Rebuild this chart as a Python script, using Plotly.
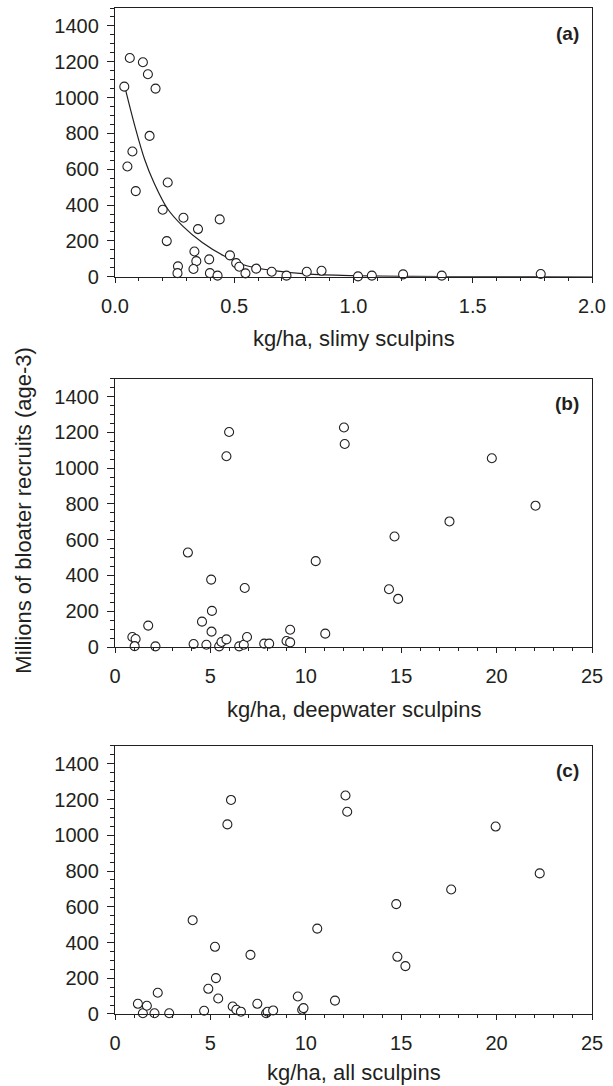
import plotly.graph_objects as go

# ---------------- data ----------------
# Panel (a): slimy sculpins biomass (kg/ha) vs bloater recruits (millions)
slimy_x = [0.039, 0.062, 0.117, 0.138, 0.170, 0.145, 0.073, 0.052, 0.087, 0.221,
           0.200, 0.217, 0.287, 0.348, 0.439, 0.333, 0.341, 0.329, 0.264, 0.262,
           0.395, 0.398, 0.430, 0.482, 0.508, 0.521, 0.547, 0.592, 0.657, 0.719,
           0.804, 0.866, 1.019, 1.077, 1.208, 1.370, 1.785]
slimy_y = [1061, 1221, 1197, 1130, 1050, 786, 699, 615, 478, 526,
           374, 199, 329, 266, 320, 141, 87, 43, 58, 20,
           97, 20, 6, 119, 76, 56, 19, 45, 28, 6,
           28, 33, 2, 6, 13, 6, 15]

# fitted decay curve in panel (a)
fit_x = [0.041, 0.083, 0.124, 0.163, 0.221, 0.283, 0.366, 0.456, 0.552, 0.65,
         0.80, 1.00, 1.25, 1.50, 1.75, 2.00]
fit_y = [1061, 842, 656, 526, 378, 284, 191, 117, 61, 37,
         16, 6, 2, 0.5, 0.2, 0]

# Panel (b): deepwater sculpins
deep_x = [0.91, 1.08, 1.03, 1.74, 2.12, 3.82, 4.12, 4.56, 4.79, 5.04,
          5.08, 5.06, 5.46, 5.58, 5.84, 5.84, 5.98, 6.51, 6.75, 6.80,
          6.92, 7.82, 8.08, 8.99, 9.18, 9.18, 10.52, 11.02, 12.00, 12.04,
          14.65, 14.36, 14.84, 17.53, 19.75, 22.04]
deep_y = [56, 45, 5, 120, 4, 528, 17, 142, 13, 377,
          202, 86, 4, 28, 43, 1066, 1202, 4, 13, 330,
          56, 19, 19, 34, 97, 26, 480, 75, 1227, 1135,
          618, 323, 269, 702, 1055, 790]

# Panel (c): all sculpins
all_x = [1.20, 1.46, 1.67, 2.07, 2.24, 2.84, 4.07, 4.67, 4.89, 5.24,
         5.29, 5.41, 5.89, 6.08, 6.17, 6.36, 6.60, 7.10, 7.46, 7.92,
         8.00, 8.29, 9.58, 9.81, 9.88, 10.60, 11.53, 12.08, 12.17, 14.74,
         14.80, 15.22, 17.62, 19.95, 22.26]
all_y = [57, 4, 46, 4, 119, 4, 525, 18, 141, 376,
         201, 87, 1061, 1198, 42, 24, 13, 331, 57, 4,
         13, 20, 98, 24, 33, 478, 75, 1223, 1132, 615,
         320, 268, 697, 1049, 787]

x_titles = ["kg/ha, slimy sculpins", "kg/ha, deepwater sculpins", "kg/ha, all sculpins"]
panel_tags = ["(a)", "(b)", "(c)"]
y_title = "Millions of bloater recruits (age-3)"
y_ticks = [0, 200, 400, 600, 800, 1000, 1200, 1400]
x_ticks_a = [0.0, 0.5, 1.0, 1.5, 2.0]
x_ticks_bc = [0, 5, 10, 15, 20, 25]

# ---------------- styling ----------------
W, H = 613, 1086
ML, MR, MT, MB = 115, 15, 7, 72
PH = H - MT - MB  # plot area height in px
INK = "#231f20"
FONT = "Liberation Sans, Arial, sans-serif"

def ypaper(py):
    return (H - MB - py) / PH

domains = [
    [ypaper(276.0), 1.0],
    [ypaper(646.7), ypaper(378.0)],
    [0.0, ypaper(745.7)],
]
axis_px = [276.0, 646.7, 1014.0]
top_px = [7.5, 378.0, 745.7]
title_offset = [62, 62, 59]

fig = go.Figure()

marker = dict(symbol="circle", size=9, color="white",
              line=dict(color=INK, width=1.1))

# curve first so markers sit on top
fig.add_trace(go.Scatter(x=fit_x, y=fit_y, mode="lines", xaxis="x", yaxis="y",
                         line=dict(color=INK, width=1.2, shape="spline"),
                         hoverinfo="skip", showlegend=False))
fig.add_trace(go.Scatter(x=slimy_x, y=slimy_y, mode="markers", xaxis="x", yaxis="y",
                         marker=marker, cliponaxis=False, showlegend=False))
fig.add_trace(go.Scatter(x=deep_x, y=deep_y, mode="markers", xaxis="x2", yaxis="y2",
                         marker=marker, cliponaxis=False, showlegend=False))
fig.add_trace(go.Scatter(x=all_x, y=all_y, mode="markers", xaxis="x3", yaxis="y3",
                         marker=marker, cliponaxis=False, showlegend=False))

def xaxis(anchor, rng, ticks, minor_dt, fmt):
    return dict(anchor=anchor, domain=[0, 1], range=rng,
                tickmode="array", tickvals=ticks,
                ticktext=[fmt.format(t) for t in ticks],
                ticks="outside", ticklen=5, tickwidth=1.2, tickcolor=INK,
                minor=dict(dtick=minor_dt, ticks="outside", ticklen=3,
                           tickwidth=1, tickcolor=INK),
                showline=True, linecolor=INK, linewidth=1.4, mirror=True,
                showgrid=False, zeroline=False,
                tickfont=dict(family=FONT, size=20, color=INK),
                ticklabelstandoff=6)

def yaxis(anchor, dom):
    return dict(anchor=anchor, domain=dom, range=[0, 1500],
                tickmode="array", tickvals=y_ticks,
                ticktext=[str(t) for t in y_ticks],
                ticks="outside", ticklen=7, tickwidth=1.2, tickcolor=INK,
                minor=dict(dtick=50, ticks="outside", ticklen=4,
                           tickwidth=1, tickcolor=INK),
                showline=True, linecolor=INK, linewidth=1.4, mirror=True,
                showgrid=False, zeroline=False,
                tickfont=dict(family=FONT, size=20, color=INK),
                ticklabelstandoff=4)

annotations = []
for i in range(3):
    annotations.append(dict(
        text=x_titles[i], xref="paper", yref="paper",
        x=0.5, y=ypaper(axis_px[i] + title_offset[i]), xanchor="center", yanchor="middle",
        showarrow=False, font=dict(family=FONT, size=22, color=INK)))
    annotations.append(dict(
        text="<b>" + panel_tags[i] + "</b>", xref="paper", yref="paper",
        x=(587 - ML) / (W - ML - MR), y=ypaper(top_px[i] + 25),
        xanchor="right", yanchor="middle",
        showarrow=False, font=dict(family=FONT, size=19, color=INK)))
annotations.append(dict(
    text=y_title, xref="paper", yref="paper",
    x=(22 - ML) / (W - ML - MR), y=ypaper(510), xanchor="center", yanchor="middle",
    textangle=-90, showarrow=False, font=dict(family=FONT, size=22, color=INK)))

fig.update_layout(
    width=W, height=H,
    margin=dict(l=ML, r=MR, t=MT, b=MB, pad=0),
    paper_bgcolor="white", plot_bgcolor="white",
    xaxis=xaxis("y", [0, 2], x_ticks_a, 0.1, "{:.1f}"),
    yaxis=yaxis("x", domains[0]),
    xaxis2=xaxis("y2", [0, 25], x_ticks_bc, 1, "{:d}"),
    yaxis2=yaxis("x2", domains[1]),
    xaxis3=xaxis("y3", [0, 25], x_ticks_bc, 1, "{:d}"),
    yaxis3=yaxis("x3", domains[2]),
    annotations=annotations,
    showlegend=False,
)

fig.write_html("out.html")
